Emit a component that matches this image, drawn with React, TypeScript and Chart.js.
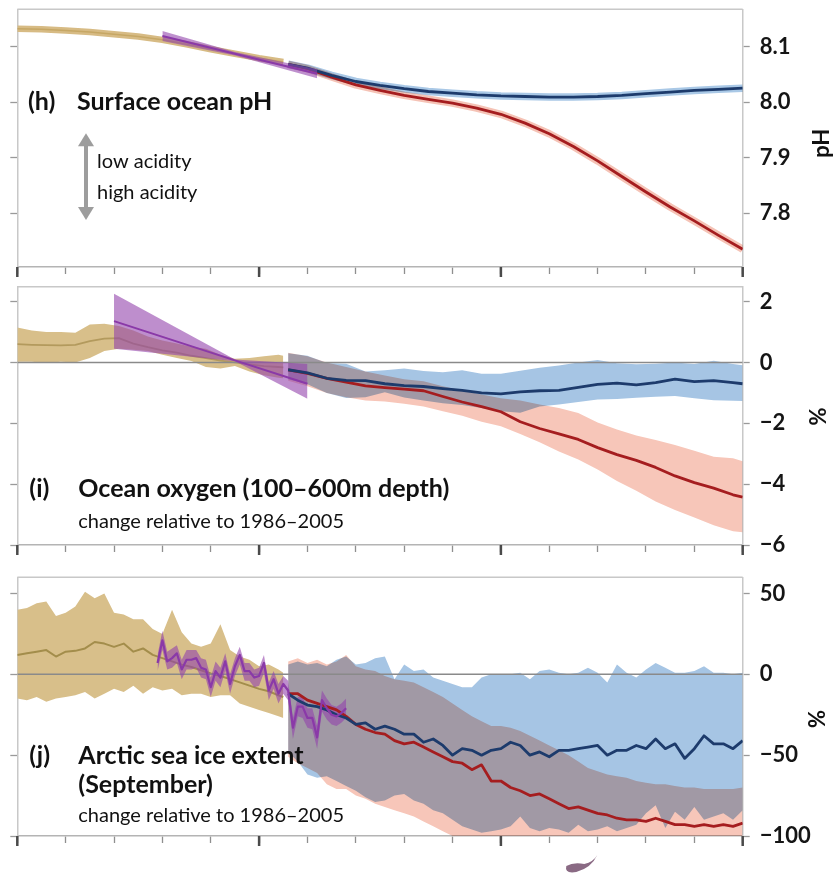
import React, { useEffect, useRef } from 'react';
import { Chart, registerables } from 'chart.js';

// ---------------- DATA ----------------
const X_MIN = 1950;
const X_MAX = 2100;
const xTickYears = [1950, 1960, 1970, 1980, 1990, 2000, 2010, 2020, 2030, 2040, 2050, 2060, 2070, 2080, 2090, 2100];
const xMajorYears = [1950, 2000, 2050, 2100];

// (h) Surface ocean pH
const phTicks = [7.8, 7.9, 8.0, 8.1];
const phHistYears = [1950, 1955, 1960, 1965, 1970, 1975, 1980, 1985, 1990, 1995, 2000, 2005];
const phHist = [8.132, 8.131, 8.129, 8.126, 8.122, 8.118, 8.112, 8.104, 8.095, 8.087, 8.079, 8.072];
const phObsYears = [1980, 1995, 2012];
const phObs = [8.119, 8.087, 8.051];
const phObsHigh = [8.128, 8.090, 8.059];
const phObsLow = [8.110, 8.084, 8.043];
const phProjYears = [2006, 2010, 2015, 2020, 2025, 2030, 2035, 2040, 2045, 2050, 2055, 2060, 2065, 2070, 2075, 2080, 2085, 2090, 2095, 2100];
const phRcp26 = [8.068, 8.061, 8.048, 8.037, 8.030, 8.024, 8.019, 8.016, 8.013, 8.011, 8.010, 8.009, 8.009, 8.010, 8.012, 8.015, 8.018, 8.021, 8.023, 8.025];
const phRcp85 = [8.068, 8.060, 8.045, 8.031, 8.021, 8.012, 8.005, 7.998, 7.989, 7.978, 7.962, 7.943, 7.920, 7.894, 7.866, 7.838, 7.811, 7.786, 7.760, 7.735];

// (i) Ocean oxygen (100–600m depth), % change relative to 1986–2005
const oxTicks = [-6, -4, -2, 0, 2];
const oxHistYears = [1950, 1953, 1956, 1959, 1962, 1965, 1968, 1971, 1974, 1977, 1980, 1983, 1986, 1989, 1992, 1995, 1998, 2001, 2004, 2005];
const oxHist = [0.60, 0.58, 0.57, 0.56, 0.58, 0.70, 0.78, 0.80, 0.62, 0.50, 0.40, 0.32, 0.22, 0.14, 0.06, 0.00, -0.06, -0.12, -0.15, -0.16];
const oxHistHigh = [1.15, 1.05, 1.00, 1.00, 0.98, 1.25, 1.27, 1.20, 1.05, 0.85, 0.72, 0.62, 0.52, 0.45, 0.25, 0.12, 0.15, 0.20, 0.25, 0.22];
const oxHistLow = [0.02, 0.02, -0.02, 0.02, 0.00, 0.15, 0.38, 0.45, 0.42, 0.38, 0.25, 0.15, 0.05, -0.15, -0.20, -0.12, -0.30, -0.42, -0.50, -0.52];
const oxObsYears = [1970, 1995, 2010];
const oxObs = [1.36, 0.07, -0.70];
const oxObsHigh = [2.26, 0.10, -0.05];
const oxObsLow = [0.45, 0.04, -1.19];
const oxProjYears = [2006, 2010, 2014, 2018, 2022, 2026, 2030, 2034, 2038, 2042, 2046, 2050, 2054, 2058, 2062, 2066, 2070, 2074, 2078, 2082, 2086, 2090, 2094, 2098, 2100];
const oxRcp26 = [-0.24, -0.34, -0.52, -0.59, -0.60, -0.70, -0.76, -0.79, -0.86, -0.92, -1.00, -1.03, -0.97, -0.93, -0.92, -0.82, -0.72, -0.68, -0.74, -0.66, -0.55, -0.63, -0.60, -0.66, -0.70];
const oxRcp26High = [0.30, 0.22, -0.02, -0.04, -0.30, -0.26, -0.20, -0.28, -0.32, -0.26, -0.37, -0.37, -0.27, -0.17, -0.10, 0.00, 0.08, -0.03, -0.06, -0.04, 0.00, -0.05, 0.06, -0.05, -0.09];
const oxRcp26Low = [-0.55, -0.72, -1.00, -1.17, -1.14, -0.98, -1.15, -1.25, -1.34, -1.40, -1.50, -1.60, -1.65, -1.45, -1.38, -1.30, -1.22, -1.20, -1.16, -1.13, -1.10, -1.18, -1.24, -1.26, -1.27];
const oxRcp85 = [-0.24, -0.36, -0.52, -0.65, -0.77, -0.83, -0.88, -0.93, -1.12, -1.30, -1.45, -1.62, -1.95, -2.17, -2.35, -2.53, -2.80, -3.03, -3.22, -3.45, -3.73, -3.95, -4.13, -4.35, -4.43];
const oxRcp85High = [0.32, 0.20, 0.00, -0.15, -0.30, -0.43, -0.55, -0.62, -0.78, -0.92, -1.05, -1.18, -1.25, -1.38, -1.50, -1.66, -1.97, -2.20, -2.40, -2.55, -2.71, -2.90, -3.10, -3.15, -3.25];
const oxRcp85Low = [-0.60, -0.78, -1.00, -1.14, -1.25, -1.28, -1.36, -1.45, -1.60, -1.75, -1.95, -2.10, -2.35, -2.62, -2.93, -3.19, -3.52, -3.90, -4.22, -4.57, -4.85, -5.10, -5.35, -5.55, -5.58];

// (j) Arctic sea ice extent (September), % change relative to 1986–2005
const iceTicks = [-100, -50, 0, 50];
const iceHistYears = [1950, 1952, 1954, 1956, 1958, 1960, 1962, 1964, 1966, 1968, 1970, 1972, 1974, 1976, 1978, 1980, 1982, 1984, 1986, 1988, 1990, 1992, 1994, 1996, 1998, 2000, 2002, 2004, 2005];
const iceHist = [12, 13, 14, 15, 11, 14, 14.5, 16, 20, 19, 17, 19, 14, 16, 12, 10, 8, 6, 4.5, 2.5, 0.5, -1, -3, -5, -7, -9, -10.5, -13, -14];
const iceHistHigh = [40, 41, 44, 45, 36, 38, 42, 51, 47, 50, 38, 37, 34, 34, 28, 25, 40, 26, 19, 17, 19, 31, 15, 11, 9, 5, 6, 3, 1];
const iceHistLow = [-15, -16, -14, -17, -15, -14, -13, -11, -15, -12, -9, -11, -7, -12, -8, -10, -9, -13, -12, -12, -14, -13, -13, -18, -20, -22, -24, -26, -27];
const iceObsYears = [1979, 1980, 1981, 1982, 1983, 1984, 1985, 1986, 1987, 1988, 1989, 1990, 1991, 1992, 1993, 1994, 1995, 1996, 1997, 1998, 1999, 2000, 2001, 2002, 2003, 2004, 2005, 2006, 2007, 2008, 2009, 2010, 2011, 2012, 2013, 2014, 2015, 2016, 2017, 2018];
const iceObs = [7, 21, 8, 10, 13, 3, 9, 9, 10, 4, 3, -8, 2, -2, 8, -6, 5, 12, 2, 2, -2, -1, 7, -10, -3, -12, -6, -10, -33, -20, -20, -27, -27, -39, -16, -21, -25, -26, -24, -21];
const iceObsHigh = [12, 27, 14, 16, 18, 9, 15, 15, 15, 10, 9, -2, 8, 4, 13, 0, 10, 17, 7, 7, 3, 4, 12, -5, 2, -6, -1, -4, -27, -14, -14, -21, -21, -32, -10, -15, -19, -20, -18, -15];
const iceObsLow = [2, 15, 3, 4, 7, -3, 3, 3, 4, -2, -3, -14, -4, -8, 2, -12, -1, 6, -4, -4, -8, -7, 1, -16, -9, -18, -12, -16, -40, -26, -27, -33, -34, -46, -23, -28, -31, -32, -30, -27];
const iceProjYears = [2006, 2008, 2010, 2012, 2014, 2016, 2018, 2020, 2022, 2024, 2026, 2028, 2030, 2032, 2034, 2036, 2038, 2040, 2042, 2044, 2046, 2048, 2050, 2052, 2054, 2056, 2058, 2060, 2062, 2064, 2066, 2068, 2070, 2072, 2074, 2076, 2078, 2080, 2082, 2084, 2086, 2088, 2090, 2092, 2094, 2096, 2098, 2100];
const iceRcp26 = [-12, -16, -19, -20, -22, -25, -27, -31, -30, -34, -32, -34, -37, -37, -42, -40, -44, -50, -46, -47, -50, -47, -46, -42, -44, -50, -48, -51, -47, -47, -46, -45, -44, -50, -47, -47, -44, -46, -40, -46, -43, -52, -46, -38, -43, -43, -46, -41];
const iceRcp26High = [6, 8, 6, 7, 5, 9, 11, 6, 7, 10, 11, -3, 6, 2, 3, -2, -4, -6, -8, -8, -2, 0, 0, 0, 1, -3, 2, 3, 1, 0, 1, 4, 1, -5, 6, 1, -2, 3, 7, 4, 1, 1, 2, 5, 1, 1, 0, 1];
const iceRcp26Low = [-48, -54, -62, -64, -63, -66, -69, -72, -76, -79, -78, -75, -74, -78, -80, -84, -86, -90, -94, -96, -98, -97, -96, -94, -88, -95, -97, -95, -96, -98, -93, -97, -96, -94, -97, -95, -93, -86, -81, -95, -85, -90, -82, -90, -88, -86, -90, -84];
const iceRcp85 = [-12, -12, -16, -18, -20, -22, -26, -31, -34, -36, -37, -41, -43, -42, -45, -48, -51, -54, -55, -59, -56, -66, -66, -70, -72, -75, -74, -77, -80, -83, -82, -84, -86, -87, -89, -90, -90, -91, -89, -91, -93, -93, -94, -93, -94, -93, -94, -92];
const iceRcp85High = [8, 10, 7, 9, 6, 8, 12, 5, 3, 2, -1, -3, -4, -5, -8, -11, -14, -18, -22, -26, -29, -32, -32, -33, -35, -38, -41, -44, -47, -50, -54, -58, -60, -62, -63, -64, -66, -67, -68, -68, -69, -70, -70, -71, -71, -71, -71, -70];
const iceRcp85Low = [-51, -55, -58, -61, -68, -71, -71, -75, -77, -80, -82, -84, -86, -88, -91, -94, -97, -100, -100, -100, -100, -100, -100, -100, -100, -100, -100, -100, -100, -100, -100, -100, -100, -100, -100, -100, -100, -100, -100, -100, -100, -100, -100, -100, -100, -100, -100, -100];

// ---------------- STYLE / LAYOUT ----------------
const FONT = 'Lato, "Open Sans", sans-serif';
const CANVAS_W = 834;
const PLOT_LEFT = 17.3;
const PLOT_RIGHT = 742.7;

const C = {
  tanBand: '#d8bf8a',
  tanLine: '#b39a5d',
  purpleBand: 'rgba(146,66,172,0.6)',
  purpleLine: '#8a39a8',
  blueBand: '#a6c5e4',
  blueLine: '#1d3b6c',
  redBand: '#f7c6b9',
  redLine: '#a51d1f',
  zero: '#8a8a8a',
};

// blend plugin registered before the filler so band fills can be multiplied
const blendPlugin = {
  id: 'blendMode',
  beforeDatasetDraw(chart: any, args: any) {
    const ds = chart.data.datasets[args.index];
    if (ds && ds.blend) {
      chart.ctx.save();
      chart.ctx.globalCompositeOperation = ds.blend;
    }
  },
  afterDatasetDraw(chart: any, args: any) {
    const ds = chart.data.datasets[args.index];
    if (ds && ds.blend) chart.ctx.restore();
  },
};
Chart.register(blendPlugin, ...registerables);

const P = (xs: number[], ys: number[]) => xs.map((x, i) => ({ x, y: ys[i] }));

function line(xs: number[], ys: number[], color: string, width: number, order: number, extra: any = {}) {
  return { data: P(xs, ys), borderColor: color, borderWidth: width, pointRadius: 0, fill: false, tension: 0, yAxisID: 'y', order, borderJoinStyle: 'round', ...extra };
}
function band(xs: number[], hi: number[], lo: number[], color: string, order: number, blend?: string) {
  return [
    { data: P(xs, hi), borderWidth: 0, borderColor: 'transparent', pointRadius: 0, fill: '+1', backgroundColor: color, tension: 0, yAxisID: 'y', order, blend },
    { data: P(xs, lo), borderWidth: 0, borderColor: 'transparent', pointRadius: 0, fill: false, tension: 0, yAxisID: 'y', order },
  ];
}
function zeroLine() {
  return { data: [{ x: X_MIN, y: 0 }, { x: X_MAX, y: 0 }], borderColor: C.zero, borderWidth: 1.5, pointRadius: 0, fill: false, yAxisID: 'y', order: 50 };
}

const setTicks = (vals: number[]) => (s: any) => { s.ticks = vals.map((v) => ({ value: v })); };
const fmtSigned = (v: number) => (v < 0 ? '\u2212' + Math.abs(v) : String(v));

function scalesFor(yMin: number, yMax: number, yTicks: number[], fmt: (v: number) => string) {
  return {
    x: {
      type: 'linear', min: X_MIN, max: X_MAX, position: 'bottom',
      ticks: { display: false },
      grid: { drawOnChartArea: false, drawTicks: true, tickLength: 7, tickWidth: 1.3, tickColor: '#8f8f8f' },
      border: { display: true, color: '#b4b4b4', width: 1.5 },
      afterBuildTicks: setTicks(xTickYears),
      afterFit: (s: any) => { s.height = 12; s.paddingLeft = 0; s.paddingRight = 0; },
    },
    y: {
      type: 'linear', position: 'right', min: yMin, max: yMax,
      ticks: { color: '#151515', padding: 10, font: { family: FONT, size: 22, weight: 'bold' }, callback: (v: any) => fmt(Number(v)) },
      grid: { drawOnChartArea: false, tickLength: 7, tickWidth: 1.3, tickColor: '#9a9a9a' },
      border: { display: true, color: '#c8c8c8', width: 1.5 },
      afterBuildTicks: setTicks(yTicks),
      afterFit: (s: any) => { s.width = CANVAS_W - PLOT_RIGHT; s.paddingTop = 0; s.paddingBottom = 0; },
    },
    yL: {
      type: 'linear', position: 'left', min: yMin, max: yMax,
      ticks: { display: false },
      grid: { drawOnChartArea: false, tickLength: 7, tickWidth: 1.3, tickColor: '#9a9a9a' },
      border: { display: true, color: '#c8c8c8', width: 1.5 },
      afterBuildTicks: setTicks(yTicks),
      afterFit: (s: any) => { s.width = PLOT_LEFT; s.paddingTop = 0; s.paddingBottom = 0; },
    },
  };
}

type Note = { text: string; dx: number; dy: number; size: number; weight: string };

function decor(
  notes: Note[],
  title: { text: string; dx: number; dy: number },
  arrow?: { dx: number; top: number; bottom: number },
  swoosh?: { dx: number; dy: number },
) {
  return {
    id: 'decor',
    beforeDatasetsDraw(chart: any) {
      const { ctx, chartArea: a } = chart;
      ctx.save();
      ctx.strokeStyle = '#c8c8c8';
      ctx.lineWidth = 1.5;
      ctx.beginPath();
      ctx.moveTo(a.left, a.top);
      ctx.lineTo(a.right, a.top);
      ctx.stroke();
      ctx.restore();
    },
    afterDraw(chart: any) {
      const { ctx, chartArea: a, scales } = chart;
      ctx.save();
      ctx.strokeStyle = '#4a4a4a';
      ctx.lineWidth = 2.5;
      for (const yr of xMajorYears) {
        const px = scales.x.getPixelForValue(yr);
        ctx.beginPath();
        ctx.moveTo(px, a.bottom);
        ctx.lineTo(px, a.bottom + 10);
        ctx.stroke();
      }
      ctx.fillStyle = '#111';
      ctx.textAlign = 'left';
      ctx.textBaseline = 'alphabetic';
      for (const n of notes) {
        ctx.font = `${n.weight} ${n.size}px ${FONT}`;
        ctx.fillText(n.text, a.left + n.dx, a.top + n.dy);
      }
      ctx.save();
      ctx.translate(a.right + title.dx, a.top + title.dy);
      ctx.rotate(-Math.PI / 2);
      ctx.textAlign = 'center';
      ctx.textBaseline = 'middle';
      ctx.font = `bold 22px ${FONT}`;
      ctx.fillText(title.text, 0, 0);
      ctx.restore();
      if (arrow) {
        const x = a.left + arrow.dx;
        const t = a.top + arrow.top;
        const b = a.top + arrow.bottom;
        const hh = 13;
        const hw = 8;
        ctx.fillStyle = '#9d9d9d';
        ctx.fillRect(x - 2, t + hh - 1, 4, b - t - 2 * hh + 2);
        ctx.beginPath();
        ctx.moveTo(x, t); ctx.lineTo(x + hw, t + hh); ctx.lineTo(x - hw, t + hh); ctx.closePath(); ctx.fill();
        ctx.beginPath();
        ctx.moveTo(x, b); ctx.lineTo(x + hw, b - hh); ctx.lineTo(x - hw, b - hh); ctx.closePath(); ctx.fill();
      }
      if (swoosh) {
        const ox = a.left + swoosh.dx;
        const oy = a.bottom + swoosh.dy;
        ctx.fillStyle = '#8a6a84';
        ctx.beginPath();
        ctx.moveTo(ox + 32, oy);
        ctx.quadraticCurveTo(ox + 26, oy + 13, ox + 11, oy + 17);
        ctx.quadraticCurveTo(ox - 1, oy + 19, ox + 1, oy + 11);
        ctx.quadraticCurveTo(ox + 8, oy + 7, ox + 19, oy + 9);
        ctx.quadraticCurveTo(ox + 28, oy + 7, ox + 32, oy);
        ctx.closePath();
        ctx.fill();
      }
      ctx.restore();
    },
  };
}

function baseOptions(padTop: number, padBottom: number, scales: any) {
  return {
    responsive: false,
    maintainAspectRatio: false,
    animation: false,
    events: [],
    layout: { padding: { top: padTop, bottom: padBottom, left: 0, right: 0 } },
    plugins: { legend: { display: false }, tooltip: { enabled: false } },
    scales,
  };
}

function buildPh(): any {
  return {
    type: 'line',
    data: {
      datasets: [
        line(phHistYears, phHist, '#d7bb84', 6.5, 90),
        line(phHistYears, phHist, '#c6a765', 1.5, 85),
        line(phProjYears, phRcp85, '#f5c3b6', 7.5, 70, { blend: 'multiply' }),
        line(phProjYears, phRcp26, '#a9c8e6', 7.5, 60, { blend: 'multiply' }),
        line(phProjYears, phRcp85, C.redLine, 2.8, 30),
        line(phProjYears, phRcp26, C.blueLine, 2.8, 20),
        ...band(phObsYears, phObsHigh, phObsLow, 'rgba(146,70,172,0.6)', 12),
        line(phObsYears, phObs, C.purpleLine, 2, 10),
      ],
    },
    options: baseOptions(9.3, 6, scalesFor(7.703, 8.167, phTicks, (v) => v.toFixed(1))),
    plugins: [
      decor(
        [
          { text: '(h)', dx: 10.7, dy: 100.7, size: 25, weight: 'bold' },
          { text: 'Surface ocean pH', dx: 59.7, dy: 100.7, size: 25, weight: 'bold' },
          { text: 'low acidity', dx: 79.7, dy: 158.4, size: 20, weight: 'normal' },
          { text: 'high acidity', dx: 79.7, dy: 190, size: 20, weight: 'normal' },
        ],
        { text: 'pH', dx: 79, dy: 134 },
        { dx: 68.7, top: 124, bottom: 210.7 },
      ),
    ],
  };
}

function buildOx(): any {
  return {
    type: 'line',
    data: {
      datasets: [
        ...band(oxHistYears, oxHistHigh, oxHistLow, C.tanBand, 90),
        line(oxHistYears, oxHist, C.tanLine, 1.8, 85),
        ...band(oxProjYears, oxRcp85High, oxRcp85Low, C.redBand, 70, 'multiply'),
        ...band(oxProjYears, oxRcp26High, oxRcp26Low, C.blueBand, 60, 'multiply'),
        zeroLine(),
        ...band(oxObsYears, oxObsHigh, oxObsLow, C.purpleBand, 45),
        line(oxProjYears, oxRcp85, C.redLine, 2.8, 30),
        line(oxProjYears, oxRcp26, C.blueLine, 2.8, 20),
        line(oxObsYears, oxObs, C.purpleLine, 2, 10),
      ],
    },
    options: baseOptions(6.7, 6, scalesFor(-6, 2.49, oxTicks, fmtSigned)),
    plugins: [
      decor(
        [
          { text: '(i)', dx: 12, dy: 210, size: 25, weight: 'bold' },
          { text: 'Ocean oxygen (100\u2013600m depth)', dx: 61, dy: 210, size: 25, weight: 'bold' },
          { text: 'change relative to 1986\u20132005', dx: 61, dy: 241.6, size: 20, weight: 'normal' },
        ],
        { text: '%', dx: 76.3, dy: 129.8 },
      ),
    ],
  };
}

function buildIce(): any {
  return {
    type: 'line',
    data: {
      datasets: [
        ...band(iceHistYears, iceHistHigh, iceHistLow, C.tanBand, 90),
        line(iceHistYears, iceHist, '#a38d4b', 2, 85),
        ...band(iceProjYears, iceRcp85High, iceRcp85Low, C.redBand, 70, 'multiply'),
        ...band(iceProjYears, iceRcp26High, iceRcp26Low, C.blueBand, 60, 'multiply'),
        zeroLine(),
        ...band(iceObsYears, iceObsHigh, iceObsLow, C.purpleBand, 45),
        line(iceProjYears, iceRcp85, C.redLine, 2.8, 30),
        line(iceProjYears, iceRcp26, C.blueLine, 2.8, 20),
        line(iceObsYears, iceObs, C.purpleLine, 2.2, 10),
      ],
    },
    options: baseOptions(7.3, 31, scalesFor(-100, 60, iceTicks, fmtSigned)),
    plugins: [
      decor(
        [
          { text: '(j)', dx: 12, dy: 186.7, size: 25, weight: 'bold' },
          { text: 'Arctic sea ice extent', dx: 61, dy: 186.7, size: 25, weight: 'bold' },
          { text: '(September)', dx: 61, dy: 216, size: 25, weight: 'bold' },
          { text: 'change relative to 1986\u20132005', dx: 61, dy: 244.4, size: 20, weight: 'normal' },
        ],
        { text: '%', dx: 75.3, dy: 141.7 },
        undefined,
        { dx: 548, dy: 19 },
      ),
    ],
  };
}

function ChartCanvas({ top, height, build }: { top: number; height: number; build: () => any }) {
  const ref = useRef<HTMLCanvasElement>(null);
  useEffect(() => {
    const chart = new Chart(ref.current as HTMLCanvasElement, build());
    return () => chart.destroy();
  }, [build]);
  return (
    <canvas
      ref={ref}
      width={CANVAS_W}
      height={height}
      style={{ position: 'absolute', left: 0, top, width: CANVAS_W, height }}
    />
  );
}

export default function App() {
  return (
    <div style={{ position: 'absolute', left: 0, top: 0, width: CANVAS_W, height: 879, background: '#fff', overflow: 'hidden' }}>
      <ChartCanvas top={0} height={285} build={buildPh} />
      <ChartCanvas top={280} height={283} build={buildOx} />
      <ChartCanvas top={570} height={309} build={buildIce} />
    </div>
  );
}
